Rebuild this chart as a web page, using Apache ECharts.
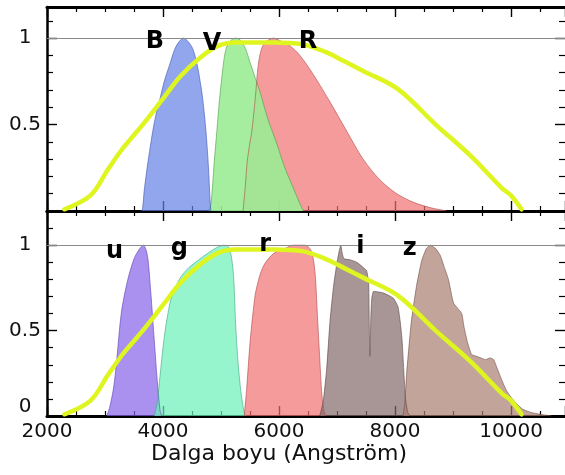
<!DOCTYPE html>
<html>
<head>
<meta charset="utf-8">
<script src="https://cdn.jsdelivr.net/npm/echarts@6/dist/echarts.min.js"></script>
<style>
html,body{margin:0;padding:0;background:#fff;}
#chart{width:565px;height:475px;}
</style>
</head>
<body>
<div id="chart"></div>
<script>
// ---- Data (wavelength in Angstrom, normalized transmission) ----
const xTicks = [2000, 4000, 6000, 8000, 10000];
const yTicksTop = [0.5, 1];
const yTicksBottom = [0, 0.5, 1];

// Top panel: Johnson B, V, R
const B_wl = [3600, 3632, 3680, 3730, 3780, 3822, 3880, 3948, 4030, 4109, 4207, 4280, 4351, 4420, 4511, 4592, 4640, 4684, 4741, 4782, 4810, 4825];
const B_tr = [0, 0.0, 0.13, 0.26, 0.37, 0.46, 0.56, 0.65, 0.76, 0.84, 0.94, 0.98, 1.0, 0.985, 0.94, 0.84, 0.75, 0.65, 0.46, 0.26, 0.07, 0];

const V_wl = [4790, 4830, 4880, 4930, 4970, 5030, 5080, 5150, 5250, 5330, 5420, 5500, 5590, 5680, 5800, 5950, 6100, 6250, 6350, 6420];
const V_tr = [0, 0.05, 0.27, 0.47, 0.63, 0.82, 0.93, 0.98, 1.0, 0.99, 0.94, 0.86, 0.77, 0.68, 0.54, 0.40, 0.25, 0.13, 0.05, 0];

const R_wl = [5380, 5420, 5450, 5500, 5530, 5590, 5640, 5700, 5780, 5900, 6020, 6190, 6360, 6590, 6880, 7170, 7450, 7740, 8030, 8320, 8600, 8890];
const R_tr = [0, 0.15, 0.28, 0.40, 0.46, 0.65, 0.84, 0.94, 0.98, 1.0, 0.985, 0.955, 0.90, 0.79, 0.63, 0.46, 0.30, 0.18, 0.10, 0.05, 0.02, 0];

// Bottom panel: SDSS u, g, r, i, z
const u_wl = [3030, 3080, 3150, 3200, 3280, 3380, 3500, 3600, 3660, 3700, 3740, 3790, 3850, 3900, 3950, 3980];
const u_tr = [0, 0.05, 0.17, 0.32, 0.60, 0.78, 0.92, 0.98, 1.0, 0.98, 0.92, 0.72, 0.44, 0.21, 0.03, 0];

const g_wl = [3850, 3900, 3950, 4000, 4050, 4150, 4300, 4450, 4600, 4800, 4950, 5050, 5130, 5180, 5220, 5250, 5290, 5340, 5400, 5430];
const g_tr = [0, 0.08, 0.24, 0.40, 0.53, 0.70, 0.81, 0.87, 0.91, 0.96, 0.99, 1.0, 0.99, 0.93, 0.80, 0.55, 0.33, 0.15, 0.02, 0];

const r_wl = [5400, 5440, 5500, 5560, 5600, 5720, 5900, 6100, 6250, 6450, 6550, 6600, 6630, 6660, 6700, 6740, 6780, 6810];
const r_tr = [0, 0.15, 0.43, 0.63, 0.73, 0.87, 0.95, 0.98, 1.0, 1.0, 0.97, 0.90, 0.80, 0.60, 0.35, 0.12, 0.02, 0];

const i_wl = [6700, 6760, 6820, 6880, 6940, 7000, 7040, 7065, 7090, 7120, 7220, 7340, 7450, 7510, 7545, 7565, 7585, 7600, 7630, 7800, 7970, 8050, 8090, 8120, 8150, 8180, 8220, 8260];
const i_tr = [0, 0.08, 0.27, 0.56, 0.76, 0.90, 0.97, 1.0, 0.95, 0.92, 0.915, 0.90, 0.87, 0.85, 0.78, 0.35, 0.60, 0.69, 0.73, 0.72, 0.69, 0.64, 0.55, 0.45, 0.27, 0.10, 0.02, 0];

const z_wl = [8140, 8170, 8200, 8280, 8370, 8460, 8540, 8610, 8700, 8780, 8850, 8920, 8980, 9010, 9080, 9150, 9190, 9250, 9320, 9400, 9480, 9560, 9640, 9700, 9760, 9840, 9920, 10000, 10100, 10200, 10350, 10500, 10700];
const z_tr = [0, 0.08, 0.25, 0.55, 0.76, 0.91, 0.98, 1.0, 0.98, 0.94, 0.87, 0.80, 0.70, 0.66, 0.63, 0.60, 0.52, 0.43, 0.36, 0.35, 0.34, 0.33, 0.34, 0.33, 0.28, 0.21, 0.15, 0.11, 0.07, 0.04, 0.02, 0.01, 0];

// CCD quantum efficiency (yellow)
const ccd_wl = [2300, 2750, 3050, 3300, 3450, 3700, 4000, 4300, 4650, 4950, 5250, 5900, 6400, 6800, 7100, 7450, 8050, 8700, 9300, 9850, 10000, 10180];
const ccd_qe = [0.01, 0.09, 0.24, 0.36, 0.42, 0.52, 0.65, 0.78, 0.89, 0.955, 0.975, 0.975, 0.965, 0.92, 0.87, 0.81, 0.705, 0.50, 0.32, 0.13, 0.09, 0.01];

// Filter name labels
const topLabels = ['B', 'V', 'R'];
const topLabelX = [3862, 4845, 6500];
const topLabelY = [0.98, 0.969, 0.98];
const botLabels = ['u', 'g', 'r', 'i', 'z'];
const botLabelX = [3163, 4283, 5763, 7402, 8253];
const botLabelY = [0.962, 0.98, 1.0, 0.99, 0.98];

// ---- Helpers ----
const zip = (a, b) => a.map((v, k) => [v, b[k]]);
const FONT = 'DejaVu Sans';

function xAx(grid, pos, labels) {
  return {
    type: 'value', gridIndex: grid, position: pos,
    min: 2000, max: 10930, interval: 2000,
    axisLine: {show: true, onZero: false, lineStyle: {color: '#000', width: 3}},
    axisTick: {show: true, inside: true, length: 10, lineStyle: {color: '#000', width: 1.4}},
    minorTick: {show: true, splitNumber: 4, length: 5, lineStyle: {color: '#000', width: 1.2}},
    splitLine: {show: false}, minorSplitLine: {show: false},
    axisLabel: labels ? {
      show: true, margin: 6, color: '#111', fontFamily: FONT, fontSize: 20,
      showMaxLabel: false,
      formatter: v => (xTicks.indexOf(v) >= 0 ? String(v) : '')
    } : {show: false},
    name: labels ? 'Dalga boyu (Angström)' : '',
    nameLocation: 'middle', nameGap: 27,
    nameTextStyle: {fontFamily: FONT, fontSize: 22, color: '#111', padding: [0, 54, 0, 0]}
  };
}
function yAx(grid, pos, max, labels, ticks) {
  return {
    type: 'value', gridIndex: grid, position: pos,
    min: 0, max: max, interval: 0.5,
    axisLine: {show: labels, onZero: false, lineStyle: {color: '#000', width: 2.5}},
    axisTick: {show: true, inside: true, length: 10, lineStyle: {color: '#000', width: 1.4}},
    minorTick: {show: true, splitNumber: 5, length: 6, lineStyle: {color: '#000', width: 1.2}},
    splitLine: {show: false}, minorSplitLine: {show: false},
    axisLabel: labels ? {
      show: true, margin: 22, align: 'center', color: '#111', fontFamily: FONT, fontSize: 20,
      showMaxLabel: false,
      formatter: v => {
        if (ticks.indexOf(v) < 0) return '';
        if (v === 0) return '{z|0}';
        return String(v);
      },
      rich: {z: {fontFamily: FONT, fontSize: 20, color: '#111', padding: [0, 0, 18, 0]}}
    } : {show: false}
  };
}
function area(name, wl, tr, color, edge, xi, yi, smooth, op, extra) {
  const s = {
    name: name, type: 'line', xAxisIndex: xi, yAxisIndex: yi,
    data: zip(wl, tr), showSymbol: false, symbol: 'none', smooth: smooth,
    lineStyle: {color: edge, width: 1, opacity: 0.6},
    areaStyle: {color: color, opacity: op, origin: 'start'},
    silent: true, animation: false
  };
  return Object.assign(s, extra || {});
}
const refLine = {
  silent: true, symbol: 'none', label: {show: false}, animation: false,
  lineStyle: {color: '#8a8a8a', width: 1.2, type: 'solid'},
  data: [{yAxis: 1}]
};
function labelSeries(names, xs, ys, xi, yi) {
  return {
    type: 'scatter', xAxisIndex: xi, yAxisIndex: yi, symbolSize: 0, z: 10, silent: true, animation: false,
    itemStyle: {opacity: 1},
    data: names.map((n, k) => ({value: [xs[k], ys[k]], name: n})),
    label: {show: true, position: 'inside', formatter: p => p.name, opacity: 1,
      fontFamily: FONT, fontWeight: 'bold', fontSize: 24, color: '#000'}
  };
}
function ccd(xi, yi) {
  return {
    type: 'line', xAxisIndex: xi, yAxisIndex: yi, data: zip(ccd_wl, ccd_qe),
    showSymbol: false, symbol: 'none', smooth: 0.35, z: 5, silent: true, animation: false,
    lineStyle: {color: '#def51f', width: 4.5, cap: 'round', join: 'round'}
  };
}

const option = {
  backgroundColor: '#ffffff',
  animation: false,
  grid: [
    {left: 47, right: 0, top: 7, height: 204, containLabel: false},
    {left: 47, right: 0, top: 211, bottom: 59, containLabel: false}
  ],
  xAxis: [xAx(0, 'bottom', false), xAx(0, 'top', false), xAx(1, 'bottom', true), xAx(1, 'top', false)],
  yAxis: [yAx(0, 'left', 1.18, true, yTicksTop), yAx(0, 'right', 1.18, false, []),
          yAx(1, 'left', 1.2, true, yTicksBottom), yAx(1, 'right', 1.2, false, [])],
  series: [
    area('R', R_wl, R_tr, '#f17070', '#b04848', 0, 0, 0.3, 0.7, {markLine: refLine}),
    area('V', V_wl, V_tr, '#9bec95', '#4d9c48', 0, 0, 0.3, 0.9),
    area('B', B_wl, B_tr, '#6480e6', '#3d55b0', 0, 0, 0.3, 0.7),
    ccd(0, 0),
    labelSeries(topLabels, topLabelX, topLabelY, 0, 0),

    area('u', u_wl, u_tr, '#8663ea', '#5b3fb0', 2, 2, 0.3, 0.7, {markLine: refLine}),
    area('g', g_wl, g_tr, '#69f1b8', '#3fa57e', 2, 2, 0.3, 0.7),
    area('r', r_wl, r_tr, '#f17070', '#b04848', 2, 2, 0.3, 0.7),
    area('i', i_wl, i_tr, '#836969', '#5a4646', 2, 2, 0.15, 0.7),
    area('z', z_wl, z_tr, '#a97e70', '#6e5048', 2, 2, 0.15, 0.7),
    ccd(2, 2),
    labelSeries(botLabels, botLabelX, botLabelY, 2, 2)
  ]
};

const chart = echarts.init(document.getElementById('chart'), null, {renderer: 'canvas'});
chart.setOption(option);
</script>
</body>
</html>
